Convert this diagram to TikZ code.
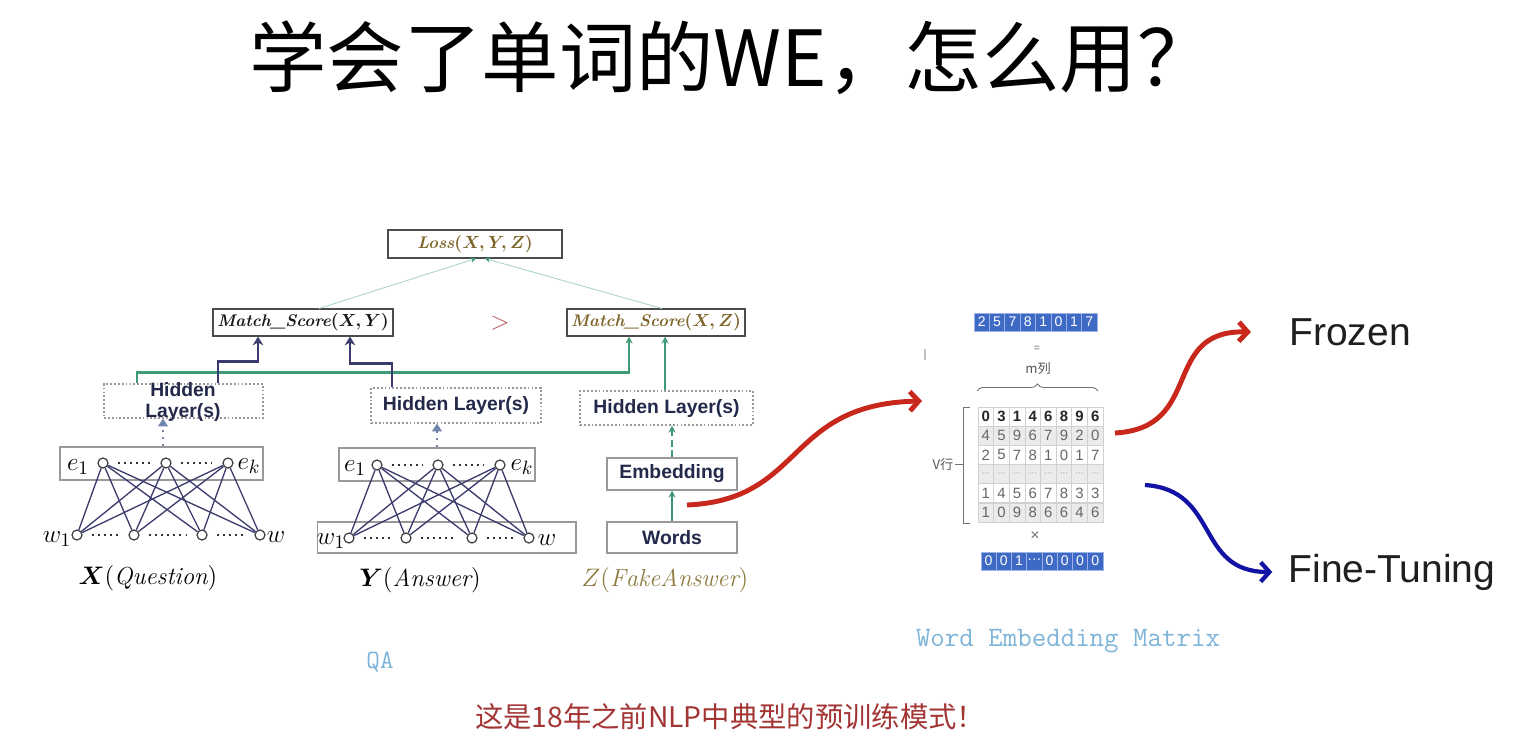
\documentclass[tikz,border=0pt]{standalone}
\usepackage{fontspec}
\usepackage{amsmath}
\usetikzlibrary{arrows.meta,decorations.pathreplacing,calc}
\newfontfamily\cjk{Noto Sans CJK SC}
\newfontfamily\arial{Liberation Sans}
\definecolor{navyc}{HTML}{3B3B6D}
\definecolor{greenc}{HTML}{3E9B76}
\definecolor{lossln}{HTML}{A8D5D2}
\definecolor{olivec}{HTML}{7D6428}
\definecolor{olivez}{HTML}{8C7A3E}
\definecolor{hlc}{HTML}{23294A}
\definecolor{dotc}{HTML}{6E85AC}
\definecolor{redc}{HTML}{C8281C}
\definecolor{bluec}{HTML}{1212A5}
\definecolor{skyc}{HTML}{7DB4D9}
\definecolor{notec}{HTML}{A33535}
\definecolor{barc}{HTML}{3E69C4}
\definecolor{barl}{HTML}{9DB3E6}
\definecolor{gtc}{HTML}{B0545A}
\definecolor{mgray}{HTML}{EBEBEB}
\begin{document}
\begin{tikzpicture}[x=0.02cm,y=-0.02cm,
  sbox/.style={draw=black!70,line width=0.6pt,inner sep=0pt},
  gbox/.style={draw=black!40,line width=0.6pt,inner sep=0pt},
  dbox/.style={draw=black!40,line width=0.6pt,dash pattern=on 1pt off 1.2pt,inner sep=0pt},
  neur/.style={circle,draw=black!75,fill=white,line width=0.7pt,minimum size=0.2cm,inner sep=0pt},
  netedge/.style={draw=navyc,line width=0.75pt},
  dotrow/.style={draw=black!80,line width=1.3pt,dash pattern=on 1.2pt off 2.3pt,shorten <=0.18cm,shorten >=0.2cm},
  hltext/.style={font=\arial\bfseries\fontsize{11}{12.5}\selectfont,text=hlc,align=center,inner sep=0pt},
  mstext/.style={font=\fontsize{9.6}{10}\selectfont},
  mlabel/.style={font=\fontsize{15}{15}\selectfont,inner sep=0pt},
  capt/.style={font=\fontsize{14}{14}\selectfont,inner sep=0pt},
  navyarr/.style={draw=navyc,line width=1.3pt,-{Stealth[length=5pt,width=6pt]}},
  greenarr/.style={draw=greenc,line width=1.2pt,-{Stealth[length=4pt,width=4pt]}},
  lossarr/.style={draw=lossln,line width=0.5pt,-{Stealth[length=3pt,width=3pt,color=greenc]}},
  dotarr/.style={draw=dotc,line width=1.6pt,dash pattern=on 1.5pt off 2.5pt,-{Triangle[length=4.5pt,width=5.5pt]}},
  bigarr/.style={line width=2.8pt,-{Straight Barb[length=5pt,width=11pt]}},
  mcell/.style={draw=black!18,line width=0.4pt,minimum width=0.3125cm,minimum height=0.383cm,inner sep=0pt,font=\arial\fontsize{8.5}{10}\selectfont,text=black!60},
  bcell/.style={draw=barl,fill=barc,line width=0.4pt,minimum width=0.306cm,minimum height=0.36cm,inner sep=0pt,font=\arial\fontsize{8}{9}\selectfont,text=white},
  smalltxt/.style={font=\cjk\fontsize{7.5}{8}\selectfont,text=black!65,inner sep=0pt},
  bigtxt/.style={font=\arial\fontsize{22.2}{24}\selectfont,text=black!88,inner sep=0pt},
]
\useasboundingbox (0,0) rectangle (1534,750);
\fill[white] (0,0) rectangle (1534,750);

% title
\node (title) at (732,58) {\resizebox{19.3cm}{!}{\cjk 学会了单词的WE，怎么用？}};

% top boxes
\node[sbox,mstext,text=olivec,minimum width=3.48cm,minimum height=0.56cm] (loss) at (475,244) {\textbf{\textit{Loss}}{\boldmath$(X,Y,Z)$}};
\node[sbox,mstext,text=black!90,minimum width=3.6cm,minimum height=0.54cm] (msxy) at (303,322.5) {\textbf{\textit{Match\_Score}}{\boldmath$(X,Y)$}};
\node[sbox,mstext,text=olivec,minimum width=3.56cm,minimum height=0.54cm] (msxz) at (656,322.5) {\textbf{\textit{Match\_Score}}{\boldmath$(X,Z)$}};
\node[text=gtc,font=\fontsize{15}{15}\selectfont,inner sep=0pt] (gt) at (500,323) {$>$};

% hidden boxes
\node[dbox,minimum width=3.18cm,minimum height=0.68cm] (hbl) at (183.5,401) {};
\node[hltext] (hblt) at (183,402) {Hidden\\Layer(s)};
\node[dbox,hltext,minimum width=3.4cm,minimum height=0.7cm] (hbm) at (456,405.5) {Hidden Layer(s)};
\node[dbox,hltext,minimum width=3.46cm,minimum height=0.68cm] (hbr) at (666.5,408) {Hidden Layer(s)};
\node[gbox,hltext,minimum width=2.6cm,minimum height=0.64cm] (emb) at (672,474) {Embedding};
\node[gbox,hltext,minimum width=2.6cm,minimum height=0.62cm] (wds) at (672,537.5) {Words};

% layer boxes
\node[gbox,minimum width=4.06cm,minimum height=0.66cm] (ebl) at (161.5,463.5) {};
\node[gbox,minimum width=3.92cm,minimum height=0.66cm] (ebm) at (437,464.5) {};
\node[gbox,minimum width=5.18cm,minimum height=0.62cm] (wbm) at (446.5,537.5) {};

% neurons
\foreach \n/\x in {1/103,2/166,3/228} \node[neur] (le\n) at (\x,463) {};
\foreach \n/\x in {1/77,2/134,3/202,4/260} \node[neur] (lw\n) at (\x,535) {};
\foreach \n/\x in {1/377,2/438,3/500} \node[neur] (me\n) at (\x,465) {};
\foreach \n/\x in {1/349,2/406,3/472,4/529} \node[neur] (mw\n) at (\x,538) {};
\foreach \a in {1,2,3} \foreach \b in {1,2,3,4} {
  \draw[netedge] (le\a) -- (lw\b);
  \draw[netedge] (me\a) -- (mw\b);
}
\draw[dotrow] (le1) -- (le2);
\draw[dotrow] (le2) -- (le3);
\draw[dotrow] (lw1) -- (lw2);
\draw[dotrow] (lw2) -- (lw3);
\draw[dotrow] (lw3) -- (lw4);
\draw[dotrow] (me1) -- (me2);
\draw[dotrow] (me2) -- (me3);
\draw[dotrow] (mw1) -- (mw2);
\draw[dotrow] (mw2) -- (mw3);
\draw[dotrow] (mw3) -- (mw4);

% neuron labels
\node[mlabel] (le1l) at (78,467) {$e_1$};
\node[mlabel] (le3l) at (249,466) {$e_k$};
\node[mlabel] (lw1l) at (57,539) {$w_1$};
\node[mlabel] (lw4l) at (276,537) {$w$};
\node[mlabel] (me1l) at (355,468) {$e_1$};
\node[mlabel] (me3l) at (522,467) {$e_k$};
\node[mlabel] (mw1l) at (331,541) {$w_1$};
\node[mlabel] (mw4l) at (547,540) {$w$};

% captions
\node[capt] (xq) at (148,578) {$\boldsymbol{X}(\mathit{Question})$};
\node[capt] (ya) at (420,580) {$\boldsymbol{Y}(\mathit{Answer})$};
\node[capt,text=olivez] (zf) at (665,580) {$Z(\mathit{FakeAnswer})$};

% connectors
\draw[lossarr] ($(msxy.north)+(16,0)$) -- ($(loss.south)+(1,0)$);
\draw[lossarr] ($(msxz.north)+(6,0)$) -- ($(loss.south)+(10,0)$);
\draw[greenarr] ($(hbl.north)+(-46.5,0)$) -- ++(0,-11) -| ($(msxz.south)+(-27,0)$);
\draw[greenarr] ($(hbr.north)+(-1.5,0)$) -- ($(msxz.south)+(9,0)$);
\draw[navyarr] ($(hbl.north)+(34.5,0)$) -- ++(0,-22) -| ($(msxy.south)+(-45,0)$);
\draw[navyarr] ($(hbm.north)+(-64,0)$) -- ++(0,-24) -| ($(msxy.south)+(47,0)$);
\draw[dotarr] ($(ebl.north)+(1.5,0)$) -- ($(ebl.north |- hbl.south)+(1.5,0)$);
\draw[dotarr] (ebm.north) -- (ebm.north |- hbm.south);
\draw[greenarr,dash pattern=on 4pt off 2pt] (emb.north) -- (emb.north |- hbr.south);
\draw[greenarr] (wds.north) -- (emb.south);

% bottom texts
\node[font=\ttfamily\fontsize{15}{15}\selectfont,text=skyc,inner sep=0pt] (qa) at (380,662) {QA};
\node[font=\ttfamily\fontsize{16}{16}\selectfont,text=skyc,inner sep=0pt] (wem) at (1068,641) {Word Embedding Matrix};
\node[text=notec,inner sep=0pt] (note) at (730,717) {\resizebox{10.2cm}{!}{\cjk 这是18年之前NLP中典型的预训练模式！}};

% matrix
\foreach \v [count=\c] in {0,3,1,4,6,8,9,6}
  \node[mcell,fill=white,text=black!85,font=\arial\bfseries\fontsize{8.5}{10}\selectfont] (m1-\c) at ({978+15.625*(\c-0.5)},{407+19.17*0.5}) {\v};
\foreach \r/\fc/\vals in {2/mgray/{4,5,9,6,7,9,2,0},3/white/{2,5,7,8,1,0,1,7},5/white/{1,4,5,6,7,8,3,3},6/mgray/{1,0,9,8,6,6,4,6}}
  \foreach \v [count=\c] in \vals
    \node[mcell,fill=\fc] (m\r-\c) at ({978+15.625*(\c-0.5)},{407+19.17*(\r-0.5)}) {\v};
\foreach \c in {1,...,8}
  \node[mcell,fill=mgray,font=\arial\fontsize{4.5}{5}\selectfont,text=black!45] (m4-\c) at ({978+15.625*(\c-0.5)},{407+19.17*3.5}) {···};
\foreach \v [count=\c] in {2,5,7,8,1,0,1,7}
  \node[bcell] (t\c) at ({974+15.375*(\c-0.5)},322) {\v};
\foreach \v [count=\c] in {0,0,1,···,0,0,0,0}
  \node[bcell] (b\c) at ({981+15.25*(\c-0.5)},561) {\v};
\node[font=\arial\fontsize{6}{6}\selectfont,text=black!55,inner sep=0pt] (eq) at (1037,349) {=};
\node[smalltxt] (mcol) at (1038,369) {m列};
\draw[decorate,decoration={brace,amplitude=4pt},draw=black!55,line width=0.5pt] (977,391) -- (1098,391);
\draw[black!55,line width=0.5pt] (970,407) -- (963,407) -- (963,523) -- (970,523);
\draw[black!55,line width=0.5pt] (955,464) -- (963,464);
\node[smalltxt] (vrow) at (943,464) {V行};
\node[font=\arial\fontsize{9}{9}\selectfont,text=black!55,inner sep=0pt] (times) at (1035,536) {×};
\draw[black!25,line width=0.6pt] (925,349) -- (925,360);

% big arrows
\node[bigtxt] (frozen) at (1350,332) {Frozen};
\node[bigtxt] (ft) at (1392,572) {Fine-Tuning};
\coordinate (rs) at (687,505);
\coordinate (rt) at (922,401);
\draw[bigarr,redc] (rs) .. controls (805,500) and (785,404) .. (rt);
\coordinate (fs) at (1115,433);
\draw[bigarr,redc] (fs) .. controls (1205,428) and (1160,330) .. ($(frozen.west)+(-38,0)$);
\coordinate (bs) at (1145,485);
\draw[bigarr,bluec,line width=2.4pt] (bs) .. controls (1220,490) and (1195,572) .. ($(ft.west)+(-16,0)$);
\end{tikzpicture}
\end{document}
